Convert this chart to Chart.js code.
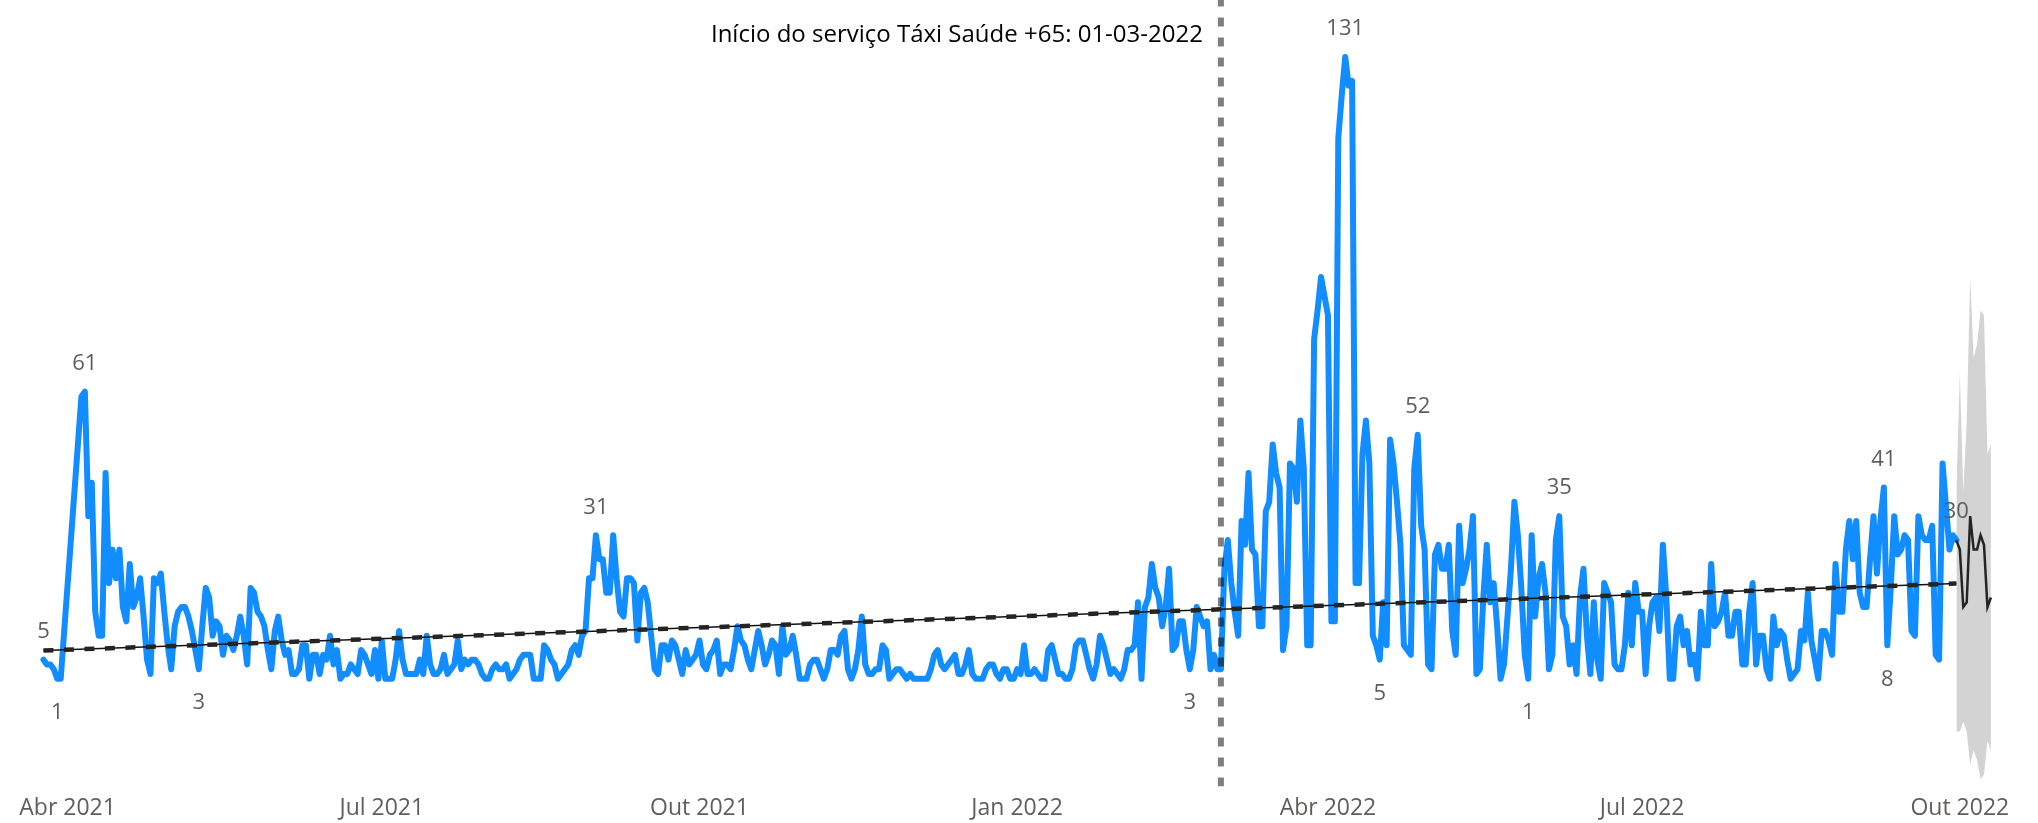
<!DOCTYPE html>
<html>
<head>
<meta charset="utf-8">
<script src="https://cdn.jsdelivr.net/npm/chart.js@4.4.0/dist/chart.umd.min.js"></script>
<style>
	html, body { margin: 0; padding: 0; background: #fff; }
	#chart { display: block; }
</style>
</head>
<body>
<canvas id="chart" width="2038" height="823"></canvas>
<script>
// day numbers are counted from 1 Apr 2021 (day 0)
var firstDay = -7;
var trips = [
	5, 4, 4, 3, 1, 1, null, null, null, null,
	null, 60, 61, 35, 42, 15, 10, 10, 44, 21,
	28, 22, 28, 16, 13, 25, 16, 18, 22, 14,
	5, 2, 22, 21, 23, 15, 8, 3, 12, 15,
	16, 16, 14, 11, 7, 3, 12, 20, 18, 10,
	13, 12, 6, 10, 9, 7, 10, 14, 10, 4,
	20, 19, 15, 14, 12, 7, 3, 11, 14, 9,
	6, 7, 2, 2, 3, 8, 8, 1, 6, 6,
	2, 6, 5, 10, 4, 7, 1, 2, 2, 4,
	3, 2, 7, 6, 4, 2, 7, 1, 9, 1,
	1, 1, 5, 11, 5, 2, 2, 2, 2, 5,
	2, 10, 4, 2, 2, 3, 6, 2, 3, 4,
	9, 3, 5, 4, 5, 5, 4, 2, 1, 1,
	3, 4, 3, 3, 4, 1, 2, 3, 5, 6,
	6, 6, 1, 1, 1, 8, 7, 5, 4, 1,
	2, 3, 4, 7, 8, 6, 10, 11, 22, 22,
	31, 26, 26, 19, 19, 31, 22, 15, 14, 22,
	22, 21, 9, 19, 20, 17, 10, 3, 2, 8,
	8, 5, 9, 8, 5, 2, 7, 4, 5, 6,
	9, 4, 3, 6, 7, 9, 2, 4, 4, 3,
	7, 12, 9, 8, 5, 3, 7, 11, 8, 4,
	6, 9, 8, 2, 12, 6, 7, 10, 6, 1,
	1, 1, 4, 5, 5, 3, 1, 3, 7, 7,
	6, 10, 11, 3, 1, 3, 7, 14, 4, 2,
	2, 3, 3, 8, 7, 1, 2, 3, 3, 2,
	1, 2, 1, 1, 1, 1, 1, 3, 6, 7,
	4, 3, 4, 5, 6, 2, 2, 4, 7, 2,
	1, 1, 1, 3, 4, 4, 2, 1, 3, 3,
	1, 1, 3, 2, 8, 2, 2, 3, 2, 1,
	1, 7, 8, 5, 2, 2, 1, 1, 3, 8,
	9, 9, 6, 3, 1, 4, 10, 8, 5, 2,
	3, 2, 1, 3, 7, 7, 8, 17, 1, 16,
	18, 25, 20, 18, 12, 16, 24, 7, 8, 13,
	13, 7, 3, 7, 16, 14, 12, 13, 3, 6,
	3, 3, 24, 30, 21, 15, 10, 34, 29, 44,
	28, 27, 12, 12, 36, 38, 50, 44, 41, 7,
	12, 46, 45, 38, 55, 45, 8, 8, 72, 78,
	85, 81, 77, 13, 13, 114, 123, 131, 125, 126,
	21, 21, 48, 55, 46, 10, 8, 5, 17, 8,
	51, 46, 38, 29, 8, 7, 6, 45, 52, 33,
	28, 4, 3, 27, 29, 24, 24, 29, 11, 6,
	33, 21, 24, 28, 35, 2, 3, 18, 29, 17,
	21, 12, 1, 4, 14, 24, 38, 31, 20, 6,
	1, 31, 14, 22, 25, 19, 3, 6, 30, 35,
	14, 12, 4, 8, 2, 18, 24, 10, 2, 17,
	5, 1, 21, 19, 17, 4, 3, 3, 8, 19,
	8, 21, 15, 15, 2, 12, 17, 18, 11, 29,
	18, 1, 1, 12, 14, 8, 11, 4, 6, 1,
	15, 8, 8, 25, 12, 13, 15, 19, 10, 10,
	15, 15, 4, 4, 15, 21, 4, 10, 10, 3,
	1, 14, 8, 11, 10, 5, 1, 2, 3, 11,
	9, 19, 9, 5, 1, 11, 11, 9, 6, 25,
	15, 15, 28, 34, 26, 34, 19, 16, 16, 26,
	35, 23, 34, 41, 8, 20, 35, 27, 28, 31,
	30, 11, 10, 35, 31, 30, 30, 33, 6, 5,
	46, 37, 28, 31, 30
];

var forecastFirstDay = 547;
var forecast      = [30, 28, 16, 17, 35, 28, 28, 31, 29, 16, 18];
var forecastUpper = [40, 65, 40, 55, 85, 68, 71, 78, 77, 48, 50];
var forecastLower = [-10, -10, -8, -10, -17, -14, -16, -20, -19, -12, -14];

var trendDays = [-7, 547];
var trendValues = [6.9, 20.9];

var serviceStartDay = 334; // 01-03-2022
var serviceText = "Início do serviço Táxi Saúde +65: 01-03-2022";

var tickDays = [0, 91, 183, 275, 365, 456, 548];
var tickLabels = ["Abr 2021", "Jul 2021", "Out 2021", "Jan 2022", "Abr 2022", "Jul 2022", "Out 2022"];

// points that carry a value label, and on which side of the line
var labelDays  = [-7, -3, 5, 38, 153, 325, 370, 380, 391, 423, 432, 526, 527, 547];
var labelSides = ["above", "below", "above", "below", "above", "below", "above", "below", "above", "below", "above", "above", "below", "above"];

var yMin = -21.5, yMax = 142.9;

function toPoints (first, values) {
	return values.map(function (v, i) { return { x: first + i, y: v }; });
}

var pointLabels = {
	id: 'pointLabels',
	afterDatasetsDraw: function (chart) {
		var ctx = chart.ctx;
		var xs = chart.scales.x, ys = chart.scales.y;
		ctx.save();
		ctx.font = '22px "Open Sans"';
		ctx.fillStyle = '#605E5C';
		ctx.textAlign = 'center';
		ctx.textBaseline = 'middle';
		labelDays.forEach(function (d, i) {
			var v = trips[d - firstDay];
			var px = xs.getPixelForValue(d);
			var py = ys.getPixelForValue(v) + (labelSides[i] === 'below' ? 34 : -28);
			ctx.fillText(String(v), px, py);
		});
		ctx.font = '24px "Open Sans"';
		ctx.fillStyle = '#000';
		ctx.textAlign = 'right';
		ctx.fillText(serviceText, xs.getPixelForValue(serviceStartDay) - 18, 35);
		ctx.restore();
	}
};

function loadChart () {
	var ctx = document.getElementById("chart");
	new Chart(ctx, {
		type: 'line',
		data: {
			datasets: [{
				data: toPoints(forecastFirstDay, forecastUpper),
				fill: '+1',
				backgroundColor: '#D3D3D3',
				borderWidth: 0,
				pointRadius: 0,
				order: 9
			}, {
				data: toPoints(forecastFirstDay, forecastLower),
				fill: false,
				borderWidth: 0,
				pointRadius: 0,
				order: 9
			}, {
				data: toPoints(firstDay, trips),
				borderColor: '#118DFF',
				borderWidth: 6,
				borderJoinStyle: 'round',
				borderCapStyle: 'round',
				pointRadius: 0,
				spanGaps: true,
				order: 5
			}, {
				data: toPoints(forecastFirstDay, forecast),
				borderColor: '#252423',
				borderWidth: 2.5,
				pointRadius: 0,
				order: 4
			}, {
				data: [{ x: trendDays[0], y: trendValues[0] }, { x: trendDays[1], y: trendValues[1] }],
				borderColor: '#111',
				borderWidth: 1.5,
				pointRadius: 0,
				order: 3
			}, {
				data: [{ x: trendDays[0], y: trendValues[0] }, { x: trendDays[1], y: trendValues[1] }],
				borderColor: '#252423',
				borderWidth: 4.5,
				borderDash: [10, 10.5],
				pointRadius: 0,
				order: 2
			}, {
				data: [{ x: serviceStartDay, y: yMin }, { x: serviceStartDay, y: yMax }],
				borderColor: 'rgba(0,0,0,0.5)',
				borderWidth: 6,
				borderDash: [9, 11],
				pointRadius: 0,
				order: 1
			}]
		},
		options: {
			responsive: false,
			devicePixelRatio: 1,
			animation: false,
			layout: { padding: { bottom: -7 } },
			plugins: {
				legend: { display: false },
				tooltip: { enabled: false }
			},
			scales: {
				x: {
					type: 'linear',
					min: -19.58,
					max: 570.64,
					grid: { display: false, drawTicks: false },
					border: { display: false },
					afterBuildTicks: function (scale) {
						scale.ticks = tickDays.map(function (d) { return { value: d }; });
					},
					ticks: {
						autoSkip: false,
						maxRotation: 0,
						padding: 8,
						color: '#605E5C',
						font: { family: '"Open Sans"', size: 23 },
						callback: function (value) { return tickLabels[tickDays.indexOf(value)]; }
					}
				},
				y: {
					display: false,
					min: yMin,
					max: yMax
				}
			}
		},
		plugins: [pointLabels]
	});
}
window.addEventListener("load", function () { loadChart(); });
</script>
</body>
</html>
